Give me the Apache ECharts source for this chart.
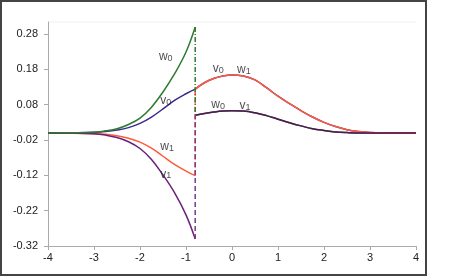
<!DOCTYPE html>
<html>
<head>
<meta charset="utf-8">
<script src="https://cdn.jsdelivr.net/npm/echarts@6/dist/echarts.min.js"></script>
<style>html,body{margin:0;padding:0;background:#fff}#c{width:458px;height:277px}</style>
</head>
<body>
<div id="c"></div>
<script>
// Left branch (x < -0.8)
const xLeft = [-4, -3.5, -3, -2.75, -2.5, -2.25, -2, -1.75, -1.5, -1.25, -1, -0.8];
const w0Left = [0, 0.0005, 0.002, 0.006, 0.012, 0.024, 0.042, 0.073, 0.116, 0.167, 0.229, 0.30];
const v0Left = [0, 0.0005, 0.002, 0.004, 0.008, 0.015, 0.027, 0.045, 0.068, 0.092, 0.111, 0.124];
const w1Left = [0, -0.0005, -0.002, -0.004, -0.008, -0.015, -0.026, -0.043, -0.066, -0.089, -0.108, -0.121];
const v1Left = [0, -0.0005, -0.002, -0.006, -0.013, -0.025, -0.044, -0.075, -0.119, -0.169, -0.232, -0.30];
// Right branch (x > -0.8)
const xRight = [-0.8, -0.6, -0.4, -0.2, 0, 0.25, 0.5, 0.75, 1, 1.25, 1.5, 1.75, 2, 2.25, 2.5, 2.75, 3, 3.5, 4];
const upperRight = [0.124, 0.142, 0.154, 0.161, 0.164, 0.161, 0.150, 0.128, 0.104, 0.083, 0.063, 0.045, 0.030, 0.018, 0.009, 0.004, 0.0015, 0, 0]; // v0 = w1
const lowerRight = [0.050, 0.055, 0.059, 0.062, 0.063, 0.062, 0.057, 0.049, 0.039, 0.029, 0.020, 0.012, 0.007, 0.003, 0.001, 0, 0, 0, 0]; // w0 = v1
// Jumps at x = -0.8
const jumpX = -0.8;
const w0Jump = [0.30, 0.050];
const w1Jump = [-0.121, 0.124];
const v1Jump = [-0.30, 0.050];
// Curve labels
const labelBase = ['w', 'v', 'w', 'v', 'v', 'w', 'w', 'v'];
const labelSub = ['0', '0', '1', '1', '0', '1', '0', '1'];
const labelX = [-1.44, -1.44, -1.41, -1.44, -0.30, 0.26, -0.30, 0.28];
const labelY = [0.218, 0.093, -0.037, -0.114, 0.184, 0.181, 0.082, 0.079];
// Axis ticks
const yTicks = [-0.32, -0.22, -0.12, -0.02, 0.08, 0.18, 0.28];
const xTicks = [-4, -3, -2, -1, 0, 1, 2, 3, 4];

const zip = (xs, ys) => xs.map((x, i) => [x, ys[i]]);
const jump = ys => ys.map(y => [jumpX, y]);

const GREEN = '#2f7a2f', BLUE = '#3a2a8c', RED = '#ff5a3c', PURPLE = '#6a2078', DARK = '#521656';

function line(data, color, type, z, smooth) {
  return {
    type: 'line', data, symbol: 'none', smooth: smooth === undefined ? 0.4 : smooth, z: z || 2,
    lineStyle: { color, width: 1.5, type: type || 'solid' }, silent: true
  };
}

const chart = echarts.init(document.getElementById('c'), null, { renderer: 'canvas' });
chart.setOption({
  animation: false,
  backgroundColor: '#fff',
  grid: { left: 48, right: 42, top: 22, bottom: 31 },
  xAxis: {
    type: 'value', min: -4, max: 4, interval: 1,
    axisLine: { onZero: false, lineStyle: { color: '#aaa', width: 1 } },
    axisTick: { show: true, length: 4, lineStyle: { color: '#aaa' }, customValues: xTicks },
    axisLabel: { color: '#222', fontSize: 11, fontFamily: 'Liberation Sans, Arial', margin: 6, customValues: xTicks },
    splitLine: { show: false }
  },
  yAxis: {
    type: 'value', min: -0.32, max: 0.314,
    axisLine: { show: true, onZero: false, lineStyle: { color: '#aaa', width: 1 } },
    axisTick: { show: true, length: 4, lineStyle: { color: '#aaa' }, customValues: yTicks },
    axisLabel: { color: '#222', fontSize: 11, fontFamily: 'Liberation Sans, Arial', margin: 10,
      customValues: yTicks, formatter: v => v.toFixed(2) },
    splitLine: { show: false }
  },
  graphic: [{
    type: 'rect', shape: { x: 1, y: 1, width: 425, height: 274 },
    style: { fill: 'none', stroke: '#444', lineWidth: 2 }, z: 100
  }, {
    type: 'line', shape: { x1: 48, y1: 22, x2: 416, y2: 22 },
    style: { stroke: '#f0f0f0', lineWidth: 1 }, z: 0
  }],
  series: [
    line(zip(xLeft, w1Left), RED),
    line(zip(xLeft, v0Left), BLUE),
    line(zip(xLeft, v1Left), PURPLE),
    line(zip(xLeft, w0Left), GREEN),
    line(zip(xRight, upperRight), BLUE),
    line(zip(xRight, upperRight), RED, 'solid', 3),
    line(zip(xRight, lowerRight), GREEN),
    line(zip(xRight, lowerRight), DARK, 'solid', 3),
    line(jump(w1Jump), RED, [5, 3], 4, false),
    line(jump(v1Jump), '#7a3a8a', [5, 3], 5, false),
    line(jump(w0Jump), GREEN, [5, 2, 1, 2], 6, false),
    {
      type: 'scatter', symbolSize: 0, silent: true, z: 10,
      data: labelX.map((x, i) => [x, labelY[i], labelBase[i], labelSub[i]]),
      label: {
        show: true, position: 'inside', color: '#222',
        formatter: p => `{b|${p.data[2]}}{s|${p.data[3]}}`,
        rich: {
          b: { fontSize: 12, fontFamily: 'Liberation Sans, Arial', color: '#222', lineHeight: 14, verticalAlign: 'bottom' },
          s: { fontSize: 9, fontFamily: 'Liberation Sans, Arial', color: '#222', lineHeight: 14, verticalAlign: 'bottom', padding: [5, 0, 0, 0] }
        }
      }
    }
  ]
});
</script>
</body>
</html>
